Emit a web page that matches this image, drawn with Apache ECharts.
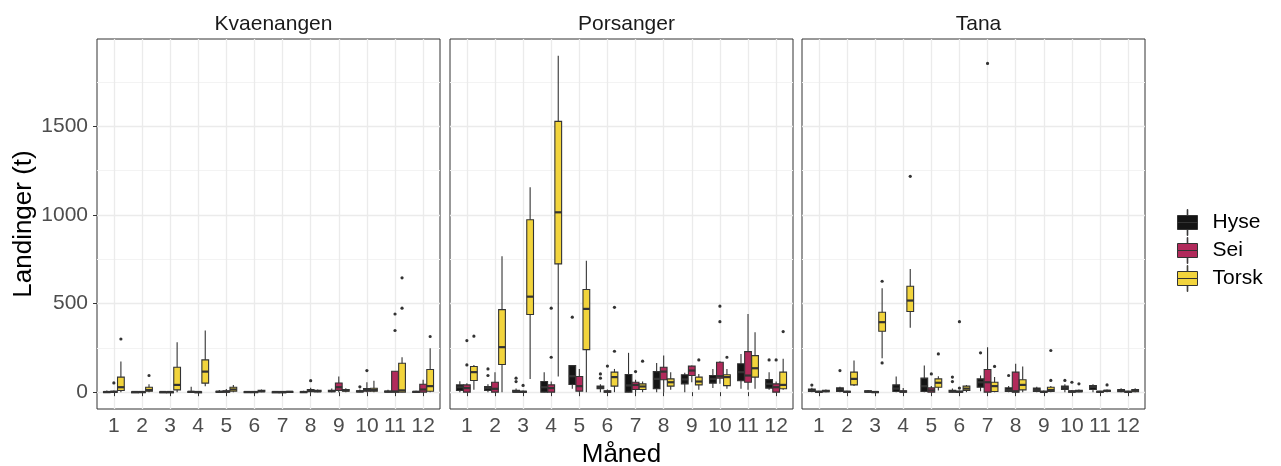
<!DOCTYPE html>
<html>
<head>
<meta charset="utf-8">
<script src="https://cdn.jsdelivr.net/npm/echarts@6.0.0/dist/echarts.min.js"></script>
<style>
  html, body { margin: 0; padding: 0; background: #fff; }
  #chart { width: 1281px; height: 466px; }
</style>
</head>
<body>
<div id="chart"></div>
<script>
// Landinger per måned, boksplott per art og område

const months = [1, 2, 3, 4, 5, 6, 7, 8, 9, 10, 11, 12];
const panels = ['Kvaenangen', 'Porsanger', 'Tana'];
const species = ['Hyse', 'Sei', 'Torsk'];
const yTicks = [0, 500, 1000, 1500];
const yMinorTicks = [250, 750, 1250, 1750];

// [nedre whisker, Q1, median, Q3, øvre whisker] per måned
const kvaeHyse = [[0,0,1,3,10],[0,0,1,2,6],[0,0,1,2,5],[0,0,2,4,30],[0,0,2,5,12],[0,0,1,3,6],
  [0,0,1,2,5],[0,0,1,3,8],[0,2,6,10,20],[0,1,4,8,15],[0,1,3,6,14],[0,0,2,4,8]];
const kvaeSei = [[0,0,2,5,10],[0,0,1,3,6],[0,0,1,2,4],[0,0,1,2,4],[0,0,3,8,18],[0,0,1,3,6],
  [0,0,1,2,5],[0,3,8,15,25],[0,10,28,52,88],[0,5,12,20,56],[0,0,4,118,118],[0,0,15,45,70]];
const kvaeTorsk = [[0,9,28,85,173],[0,5,12,28,45],[0,13,41,141,282],[34,51,116,182,348],[0,5,15,28,40],[0,2,5,10,15],
  [0,1,2,4,6],[0,2,5,10,15],[0,5,10,15,22],[0,5,12,22,65],[0,0,10,163,197],[0,5,34,128,248]];

const porsHyse = [[0,9,28,41,62],[0,9,23,32,45],[0,0,3,10,20],[0,0,28,60,113],[19,43,90,150,154],[0,19,25,34,45],
  [0,0,38,100,222],[0,19,75,116,165],[0,47,72,98,110],[23,51,75,94,131],[19,65,113,160,216],[13,23,47,71,113]];
const porsSei = [[0,0,23,41,50],[0,0,19,56,113],[0,0,2,5,10],[0,0,23,41,60],[0,6,34,88,131],[0,0,3,8,15],
  [0,15,41,56,70],[0,70,116,141,207],[56,94,122,147,150],[47,79,90,169,175],[13,56,94,229,441],[0,0,28,47,60]];
const porsTorsk = [[13,66,113,145,154],[0,156,254,466,767],[75,438,539,973,1156],[88,724,1015,1528,1898],[0,240,470,579,742],[0,34,85,113,131],
  [0,15,32,47,60],[13,34,56,75,113],[13,41,60,85,103],[19,37,85,98,131],[19,85,135,206,338],[13,19,41,113,188]];

const tanaHyse = [[0,4,10,18,25],[0,4,15,24,30],[0,0,3,8,12],[0,4,20,41,88],[0,4,34,79,150],[0,0,5,10,20],
  [5,28,56,75,94],[0,4,12,24,35],[0,4,12,23,30],[0,15,25,34,45],[0,15,30,38,45],[0,2,8,15,22]];
const tanaSei = [[0,0,2,5,8],[0,0,2,5,8],[0,0,1,3,5],[0,0,3,8,23],[0,0,10,24,35],[0,0,2,6,10],
  [0,0,56,128,254],[0,0,5,113,160],[0,0,2,5,10],[0,0,3,8,12],[0,0,2,5,8],[0,0,2,5,8]];
const tanaTorsk = [[0,2,6,10,15],[35,41,75,113,178],[192,344,395,451,587],[364,455,517,598,695],[9,28,53,75,90],[0,9,20,34,40],
  [0,4,34,56,85],[0,13,41,70,145],[0,4,12,28,35],[0,2,5,10,15],[0,5,8,10,15],[0,2,8,15,22]];

// uteliggere: [måned, verdi]
const kvaeHyseOut = [[10,30]];
const kvaeSeiOut = [[1,52],[8,65],[10,122],[11,348],[11,441]];
const kvaeTorskOut = [[1,300],[2,94],[11,474],[11,645],[12,314]];
const porsHyseOut = [[2,94],[2,131],[3,60],[3,79],[5,423],[6,79],[6,103],[12,182]];
const porsSeiOut = [[1,154],[1,291],[3,38],[4,197],[4,474],[6,147],[7,116],[10,398],[10,485],[12,182]];
const porsTorskOut = [[1,316],[6,231],[6,479],[7,175],[9,182],[10,197],[12,342]];
const tanaHyseOut = [[1,40],[2,122],[6,60],[6,85],[7,222],[8,94],[10,66]];
const tanaSeiOut = [[5,103],[6,23],[6,398],[7,1855],[10,56]];
const tanaTorskOut = [[3,165],[3,626],[4,1218],[5,216],[7,145],[9,66],[9,235],[10,47],[11,41]];

const boxData = [
  [kvaeHyse, kvaeSei, kvaeTorsk],
  [porsHyse, porsSei, porsTorsk],
  [tanaHyse, tanaSei, tanaTorsk]
];
const outData = [
  [kvaeHyseOut, kvaeSeiOut, kvaeTorskOut],
  [porsHyseOut, porsSeiOut, porsTorskOut],
  [tanaHyseOut, tanaSeiOut, tanaTorskOut]
];

const colors = ['#141414', '#B12A5B', '#F2D43C'];
const EDGE = '#333333';
const FONT = '"Liberation Sans", Arial, sans-serif';
const dodge = [-0.25, 0, 0.25];
const BOX_W = 0.24;
const gridLeft = [97, 450, 802];
const gridW = 343;

function boxRenderer(offset, fill) {
  return function (params, api) {
    const m = api.value(0) + offset;
    const low = api.coord([m, api.value(1)]);
    const q1 = api.coord([m, api.value(2)]);
    const med = api.coord([m, api.value(3)]);
    const q3 = api.coord([m, api.value(4)]);
    const high = api.coord([m, api.value(5)]);
    const half = api.size([BOX_W, 0])[0] / 2;
    return {
      type: 'group',
      children: [
        { type: 'line', shape: { x1: low[0], y1: low[1], x2: high[0], y2: high[1] },
          style: { stroke: EDGE, lineWidth: 1.1 } },
        { type: 'rect', shape: { x: q3[0] - half, y: q3[1], width: half * 2, height: Math.max(q1[1] - q3[1], 1) },
          style: { fill: fill, stroke: EDGE, lineWidth: 1.1 } },
        { type: 'line', shape: { x1: med[0] - half, y1: med[1], x2: med[0] + half, y2: med[1] },
          style: { stroke: EDGE, lineWidth: 2.2 } }
      ]
    };
  };
}

function outlierRenderer(offset) {
  return function (params, api) {
    const p = api.coord([api.value(0) + offset, api.value(1)]);
    return { type: 'circle', shape: { cx: p[0], cy: p[1], r: 1.6 }, style: { fill: EDGE } };
  };
}

const grids = [], xAxes = [], yAxes = [], series = [], titles = [];

panels.forEach((name, i) => {
  grids.push({ left: gridLeft[i], top: 39, width: gridW, height: 370,
    outerBoundsMode: 'none', containLabel: false,
    show: true, backgroundColor: '#fff', borderColor: EDGE, borderWidth: 1 });

  titles.push({ text: name, left: gridLeft[i] + gridW / 2, top: 9, textAlign: 'center',
    textStyle: { fontSize: 21, fontWeight: 'normal', color: '#1A1A1A', fontFamily: FONT } });

  xAxes.push({
    gridIndex: i, type: 'value', min: 0.4, max: 12.6,
    axisLine: { show: false },
    axisTick: { show: true, customValues: months, length: 4, lineStyle: { color: EDGE } },
    axisLabel: { customValues: months, fontSize: 21, color: '#4D4D4D', margin: 7, fontFamily: FONT },
    splitLine: { show: true, lineStyle: { color: '#EBEBEB', width: 1.3 } },
    name: i === 1 ? 'Måned' : '',
    nameLocation: 'middle', nameGap: 30,
    nameTextStyle: { fontSize: 26, color: '#000', fontFamily: FONT }
  });

  yAxes.push({
    gridIndex: i, type: 'value', min: -95, max: 1993,
    axisLine: { show: false },
    axisTick: { show: i === 0, customValues: yTicks, length: 4, lineStyle: { color: EDGE } },
    axisLabel: { show: i === 0, customValues: yTicks, formatter: v => String(v),
      fontSize: 21, color: '#4D4D4D', margin: 9, fontFamily: FONT },
    splitLine: { show: true, lineStyle: { color: '#EBEBEB', width: 1.3 } },
    name: i === 0 ? 'Landinger (t)' : '',
    nameLocation: 'middle', nameGap: 60,
    nameTextStyle: { fontSize: 26, color: '#000', fontFamily: FONT }
  });
  yAxes.push({
    gridIndex: i, type: 'value', min: -95, max: 1993, position: 'left',
    axisLine: { show: false },
    axisTick: { show: false, customValues: yMinorTicks },
    axisLabel: { show: false, customValues: yMinorTicks },
    splitLine: { show: true, lineStyle: { color: '#F3F3F3', width: 1 } }
  });

  species.forEach((sp, g) => {
    series.push({
      type: 'custom', name: sp,
      xAxisIndex: i, yAxisIndex: i * 2,
      itemStyle: { color: colors[g] },
      encode: { x: 0, y: [1, 2, 3, 4, 5] },
      renderItem: boxRenderer(dodge[g], colors[g]),
      data: months.map((m, k) => [m].concat(boxData[i][g][k]))
    });
    series.push({
      type: 'custom', name: sp + ' uteliggere',
      xAxisIndex: i, yAxisIndex: i * 2,
      encode: { x: 0, y: 1 },
      renderItem: outlierRenderer(dodge[g]),
      data: outData[i][g]
    });
  });
});

const chart = echarts.init(document.getElementById('chart'), null, { renderer: 'canvas' });
chart.setOption({
  animation: false,
  backgroundColor: '#fff',
  title: titles,
  grid: grids,
  xAxis: xAxes,
  yAxis: yAxes,
  legend: {
    orient: 'vertical', left: 1172, top: 204,
    itemWidth: 20, itemHeight: 26, itemGap: 1,
    icon: 'path://M9.7,0L10.3,0L10.3,6L9.7,6Z M0,6L20,6L20,13L0,13Z M0,13L20,13L20,20L0,20Z M9.7,20L10.3,20L10.3,26L9.7,26Z',
    textStyle: { fontSize: 21, color: '#000', fontFamily: FONT, padding: [0, 0, 0, 10] },
    data: species.map((s, g) => ({ name: s, itemStyle: { color: colors[g], borderColor: EDGE, borderWidth: 1 } }))
  },
  series: series
});
</script>
</body>
</html>
